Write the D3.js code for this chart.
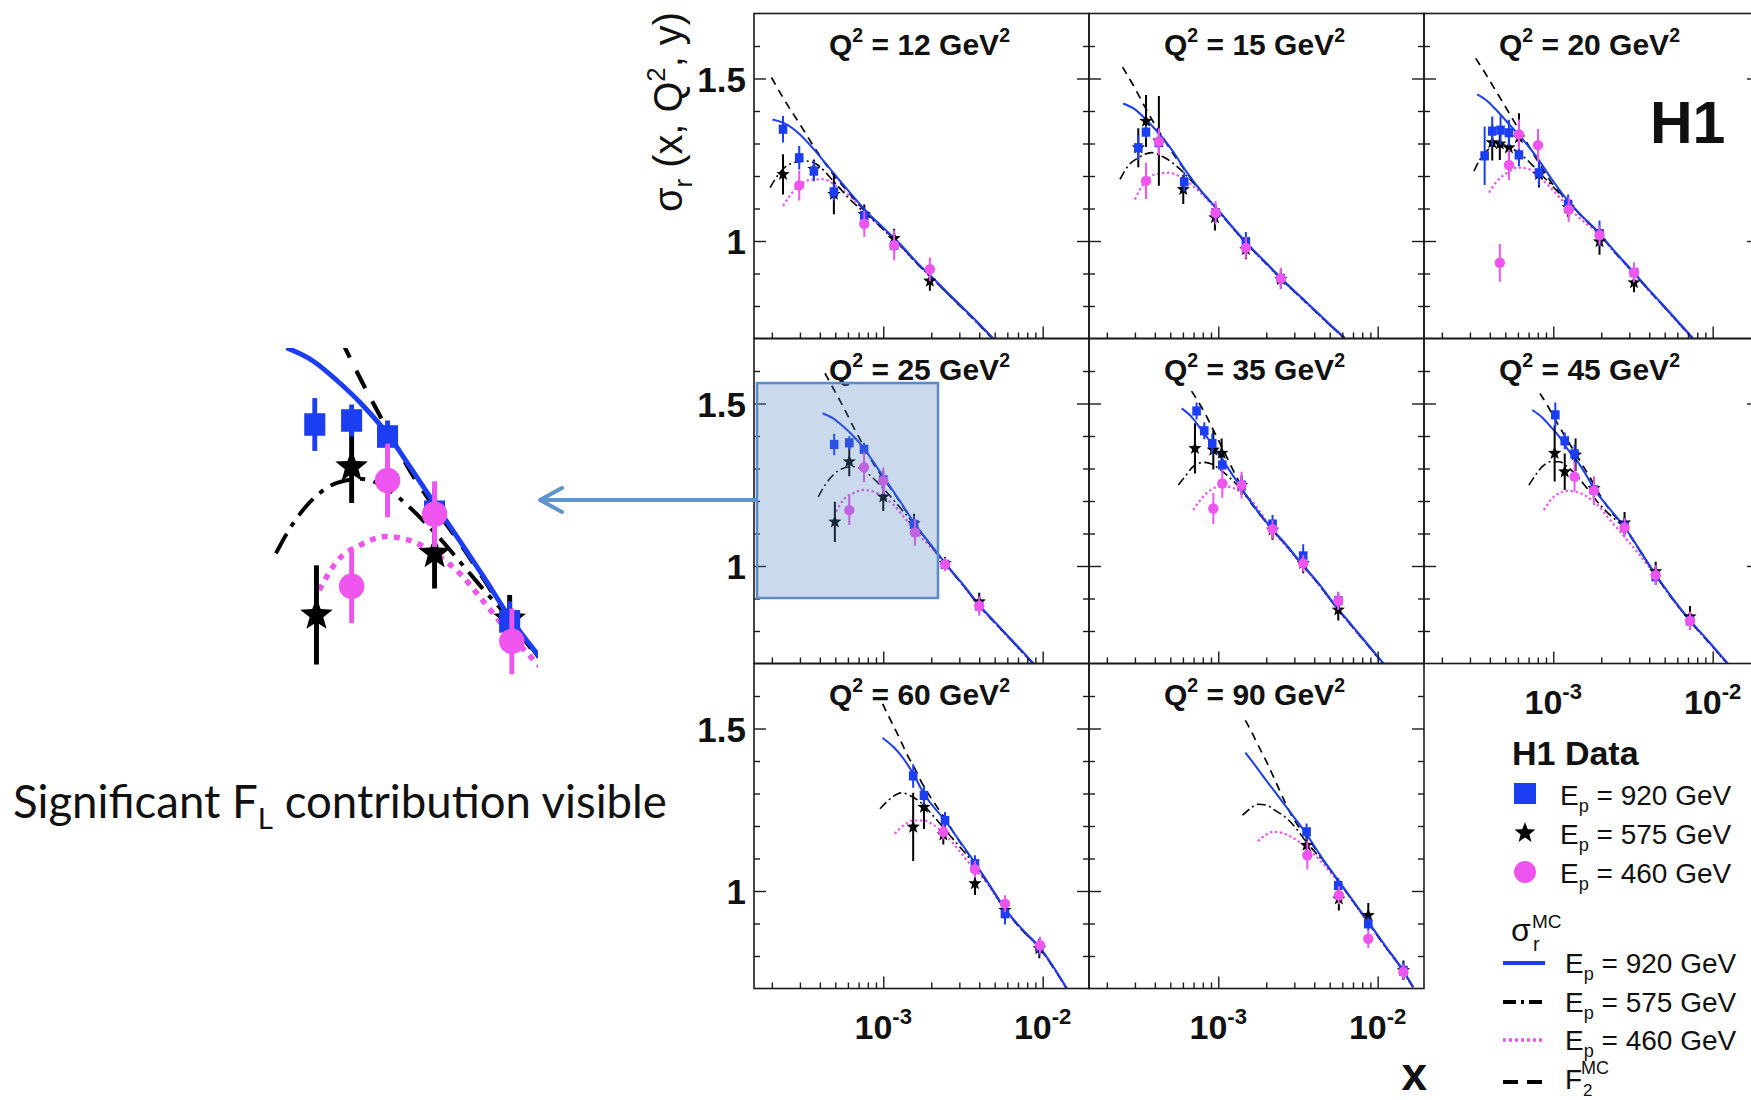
<!DOCTYPE html>
<html><head><meta charset="utf-8">
<script src="https://cdn.jsdelivr.net/npm/d3@7"></script>
<style>html,body{margin:0;padding:0;background:#fff;} svg{display:block;}</style>
</head><body>
<svg id="chart" width="1751" height="1100"></svg>
<script>
// ---------------- DATA ----------------
const q2Values = [12, 15, 20, 25, 35, 45, 60, 90];
const yMajorTicks = [1, 1.5];
const yTickLabels = ["1", "1.5"];
const xMajorTicks = [1e-3, 1e-2];
const xTickExponents = ["-3", "-2"];
const beamEnergies = ["920", "575", "460"];

// [x, sigma_r, error] per Q2 panel
const ep920Points = [
  [[2.35e-4,1.344,0.041],[2.97e-4,1.256,0.036],[3.67e-4,1.215,0.031],[4.90e-4,1.151,0.026],[7.60e-4,1.079,0.026],[1.17e-3,0.987,0.021]],
  [[3.15e-4,1.287,0.038],[3.52e-4,1.335,0.02],[4.24e-4,1.303,0.03],[6.12e-4,1.182,0.03],[9.62e-4,1.087,0.025],[1.49e-3,0.998,0.03],[2.47e-3,0.885,0.025]],
  [[3.71e-4,1.262,0.09],[4.14e-4,1.338,0.045],[4.67e-4,1.341,0.045],[5.27e-4,1.333,0.04],[6.09e-4,1.265,0.035],[8.13e-4,1.210,0.04],[1.24e-3,1.113,0.03],[1.95e-3,1.023,0.04],[3.21e-3,0.903,0.03]],
  [[4.92e-4,1.374,0.033],[6.12e-4,1.379,0.02],[7.57e-4,1.359,0.02],[1.0e-3,1.265,0.03],[1.56e-3,1.128,0.025],[2.44e-3,1.005,0.02],[4.0e-3,0.877,0.02]],
  [[7.31e-4,1.477,0.026],[8.17e-4,1.416,0.026],[9.17e-4,1.377,0.031],[1.06e-3,1.311,0.023],[1.40e-3,1.249,0.023],[2.19e-3,1.129,0.028],[3.41e-3,1.031,0.036],[5.66e-3,0.893,0.025]],
  [[1.03e-3,1.465,0.038],[1.18e-3,1.385,0.026],[1.36e-3,1.345,0.028],[1.80e-3,1.234,0.025],[2.80e-3,1.121,0.025],[4.39e-3,0.967,0.025],[7.21e-3,0.831,0.025]],
  [[1.54e-3,1.354,0.036],[1.80e-3,1.294,0.028],[2.44e-3,1.217,0.026],[3.76e-3,1.084,0.026],[5.80e-3,0.930,0.033],[9.53e-3,0.828,0.025]],
  [[3.58e-3,1.182,0.026],[5.66e-3,1.017,0.023],[8.73e-3,0.899,0.02],[1.45e-2,0.756,0.025]]
];
const ep575Points = [
  [[2.35e-4,1.205,0.062],[3.67e-4,1.221,0.03],[4.90e-4,1.144,0.062],[7.60e-4,1.082,0.03],[1.17e-3,1.008,0.03],[1.96e-3,0.877,0.03]],
  [[3.15e-4,1.287,0.06],[3.52e-4,1.369,0.08],[4.24e-4,1.308,0.138],[6.03e-4,1.159,0.045],[9.53e-4,1.072,0.04],[1.49e-3,0.974,0.03],[2.47e-3,0.882,0.03]],
  [[4.14e-4,1.303,0.055],[4.62e-4,1.299,0.05],[5.27e-4,1.287,0.04],[6.09e-4,1.318,0.075],[8.13e-4,1.205,0.04],[1.24e-3,1.103,0.03],[1.95e-3,0.998,0.04],[3.21e-3,0.872,0.03]],
  [[4.97e-4,1.136,0.062],[6.12e-4,1.321,0.045],[1.0e-3,1.213,0.044],[1.56e-3,1.131,0.03],[2.44e-3,1.008,0.02],[4.0e-3,0.890,0.028]],
  [[7.14e-4,1.362,0.077],[9.31e-4,1.357,0.06],[1.05e-3,1.347,0.045],[1.40e-3,1.249,0.03],[2.19e-3,1.111,0.03],[3.41e-3,1.008,0.03],[5.66e-3,0.865,0.033]],
  [[1.02e-3,1.347,0.087],[1.18e-3,1.290,0.056],[1.38e-3,1.342,0.05],[1.80e-3,1.239,0.033],[2.80e-3,1.133,0.033],[4.39e-3,0.983,0.03],[7.21e-3,0.844,0.033]],
  [[1.54e-3,1.197,0.105],[1.80e-3,1.258,0.067],[2.38e-3,1.173,0.03],[3.76e-3,1.023,0.035],[5.80e-3,0.941,0.03],[9.53e-3,0.823,0.03]],
  [[3.58e-3,1.141,0.035],[5.71e-3,0.976,0.036],[8.73e-3,0.925,0.038],[1.45e-2,0.756,0.03]]
];
const ep460Points = [
  [[2.97e-4,1.171,0.046],[7.60e-4,1.053,0.041],[1.17e-3,0.987,0.046],[1.96e-3,0.913,0.036]],
  [[3.52e-4,1.185,0.056],[4.24e-4,1.306,0.041],[9.62e-4,1.087,0.036],[1.49e-3,0.979,0.033],[2.47e-3,0.885,0.033]],
  [[4.62e-4,0.933,0.058],[5.27e-4,1.234,0.046],[6.09e-4,1.328,0.046],[8.02e-4,1.295,0.05],[1.25e-3,1.097,0.038],[1.95e-3,1.018,0.03],[3.21e-3,0.903,0.03]],
  [[6.12e-4,1.172,0.046],[7.57e-4,1.304,0.046],[1.0e-3,1.262,0.041],[1.58e-3,1.103,0.041],[2.44e-3,1.005,0.02],[4.0e-3,0.877,0.03]],
  [[9.31e-4,1.177,0.048],[1.06e-3,1.254,0.044],[1.40e-3,1.249,0.041],[2.19e-3,1.113,0.028],[3.41e-3,1.008,0.026],[5.66e-3,0.893,0.028]],
  [[1.36e-3,1.275,0.046],[1.80e-3,1.232,0.044],[2.80e-3,1.118,0.03],[4.39e-3,0.972,0.03],[7.21e-3,0.831,0.028]],
  [[2.38e-3,1.182,0.023],[3.76e-3,1.067,0.026],[5.80e-3,0.961,0.026],[9.62e-3,0.833,0.026]],
  [[3.62e-3,1.110,0.044],[5.71e-3,0.987,0.028],[8.73e-3,0.853,0.028],[1.45e-2,0.751,0.023]]
];

// curves [x, sigma_r]
const mc920Curves = [
  [[2.02e-4,1.374],[2.35e-4,1.364],[3.0e-4,1.328],[3.82e-4,1.272],[4.85e-4,1.210],[6.18e-4,1.149],[7.86e-4,1.090],[1.0e-3,1.041],[1.27e-3,0.992],[1.62e-3,0.935],[2.06e-3,0.885],[2.62e-3,0.834],[3.33e-3,0.784],[4.25e-3,0.732],[4.95e-3,0.698]],
  [[2.53e-4,1.423],[3.0e-4,1.405],[3.52e-4,1.374],[4.20e-4,1.333],[5.09e-4,1.282],[6.18e-4,1.220],[7.86e-4,1.152],[1.0e-3,1.095],[1.27e-3,1.035],[1.62e-3,0.978],[2.06e-3,0.926],[2.62e-3,0.874],[3.33e-3,0.826],[4.25e-3,0.777],[5.40e-3,0.729],[6.18e-3,0.703]],
  [[3.33e-4,1.451],[3.85e-4,1.431],[4.45e-4,1.400],[5.40e-4,1.354],[6.55e-4,1.308],[7.94e-4,1.256],[9.62e-4,1.195],[1.17e-3,1.138],[1.48e-3,1.082],[1.89e-3,1.031],[2.40e-3,0.971],[3.06e-3,0.914],[3.89e-3,0.856],[4.95e-3,0.800],[6.30e-3,0.743],[7.45e-3,0.703]],
  [[4.16e-4,1.470],[4.85e-4,1.454],[5.61e-4,1.429],[6.48e-4,1.400],[7.57e-4,1.362],[8.65e-4,1.321],[1.0e-3,1.275],[1.16e-3,1.229],[1.34e-3,1.183],[1.56e-3,1.133],[1.96e-3,1.070],[2.44e-3,1.010],[3.18e-3,0.942],[4.0e-3,0.880],[5.40e-3,0.811],[6.87e-3,0.756],[8.73e-3,0.701]],
  [[5.89e-4,1.485],[6.80e-4,1.459],[7.86e-4,1.418],[9.08e-4,1.377],[1.05e-3,1.331],[1.21e-3,1.285],[1.47e-3,1.224],[1.78e-3,1.167],[2.16e-3,1.116],[2.62e-3,1.070],[3.33e-3,1.008],[4.25e-3,0.947],[5.40e-3,0.880],[6.87e-3,0.818],[8.73e-3,0.757],[1.11e-2,0.695]],
  [[7.38e-4,1.480],[8.53e-4,1.457],[9.62e-4,1.429],[1.09e-3,1.398],[1.22e-3,1.362],[1.42e-3,1.321],[1.63e-3,1.275],[1.80e-3,1.238],[2.18e-3,1.185],[2.80e-3,1.120],[3.53e-3,1.045],[4.39e-3,0.974],[5.58e-3,0.902],[7.21e-3,0.833],[9.48e-3,0.767],[1.24e-2,0.701]],
  [[9.90e-4,1.471],[1.16e-3,1.443],[1.34e-3,1.407],[1.54e-3,1.361],[1.80e-3,1.299],[2.44e-3,1.217],[3.03e-3,1.152],[3.76e-3,1.087],[4.67e-3,1.017],[5.80e-3,0.946],[7.38e-3,0.884],[9.53e-3,0.828],[1.17e-2,0.766],[1.42e-2,0.700]],
  [[1.48e-3,1.426],[1.70e-3,1.387],[1.96e-3,1.346],[2.27e-3,1.305],[2.62e-3,1.264],[3.03e-3,1.223],[3.50e-3,1.182],[4.04e-3,1.135],[4.67e-3,1.089],[5.66e-3,1.033],[6.87e-3,0.976],[8.73e-3,0.905],[1.11e-2,0.833],[1.42e-2,0.761],[1.67e-2,0.705]]
];
const mc575Curves = [
  [[1.95e-4,1.164],[2.24e-4,1.210],[2.72e-4,1.241],[3.30e-4,1.246],[3.82e-4,1.236],[4.85e-4,1.185],[6.18e-4,1.128],[7.86e-4,1.082],[1.0e-3,1.036],[1.27e-3,0.989],[1.62e-3,0.932],[2.06e-3,0.882],[2.62e-3,0.831],[3.33e-3,0.781],[4.25e-3,0.729],[4.95e-3,0.695]],
  [[2.42e-4,1.190],[2.72e-4,1.231],[3.15e-4,1.256],[3.82e-4,1.272],[4.62e-4,1.256],[5.61e-4,1.226],[6.80e-4,1.185],[8.25e-4,1.140],[1.0e-3,1.093],[1.27e-3,1.033],[1.62e-3,0.976],[2.06e-3,0.924],[2.62e-3,0.872],[3.33e-3,0.824],[4.25e-3,0.775],[5.40e-3,0.727],[6.18e-3,0.701]],
  [[3.18e-4,1.215],[3.50e-4,1.254],[4.05e-4,1.287],[4.67e-4,1.297],[5.40e-4,1.287],[6.24e-4,1.267],[7.21e-4,1.239],[8.33e-4,1.207],[1.01e-3,1.164],[1.22e-3,1.123],[1.48e-3,1.080],[1.89e-3,1.029],[2.40e-3,0.969],[3.06e-3,0.912],[3.89e-3,0.854],[4.95e-3,0.798],[6.30e-3,0.741],[7.45e-3,0.701]],
  [[3.91e-4,1.213],[4.31e-4,1.249],[4.85e-4,1.280],[5.61e-4,1.301],[6.48e-4,1.306],[7.48e-4,1.295],[8.65e-4,1.270],[1.0e-3,1.239],[1.16e-3,1.203],[1.34e-3,1.167],[1.56e-3,1.131],[1.96e-3,1.067],[2.44e-3,1.007],[3.18e-3,0.940],[4.0e-3,0.878],[5.40e-3,0.809],[6.87e-3,0.754],[8.73e-3,0.699]],
  [[5.61e-4,1.249],[6.18e-4,1.275],[6.80e-4,1.301],[7.48e-4,1.316],[8.25e-4,1.319],[9.08e-4,1.314],[1.0e-3,1.301],[1.16e-3,1.275],[1.34e-3,1.244],[1.54e-3,1.208],[1.78e-3,1.165],[2.16e-3,1.114],[2.62e-3,1.068],[3.33e-3,1.006],[4.25e-3,0.945],[5.40e-3,0.878],[6.87e-3,0.816],[8.73e-3,0.755],[1.11e-2,0.693]],
  [[7.04e-4,1.249],[7.74e-4,1.280],[8.53e-4,1.306],[9.62e-4,1.321],[1.09e-3,1.321],[1.22e-3,1.306],[1.42e-3,1.275],[1.63e-3,1.239],[1.89e-3,1.198],[2.18e-3,1.165],[2.52e-3,1.138],[2.80e-3,1.118],[3.53e-3,1.043],[4.39e-3,0.972],[5.58e-3,0.900],[7.21e-3,0.831],[9.48e-3,0.765],[1.24e-2,0.699]],
  [[9.53e-4,1.253],[1.05e-3,1.274],[1.16e-3,1.292],[1.30e-3,1.302],[1.47e-3,1.294],[1.70e-3,1.274],[1.96e-3,1.243],[2.27e-3,1.207],[2.62e-3,1.171],[3.03e-3,1.135],[3.50e-3,1.099],[4.67e-3,1.014],[5.80e-3,0.944],[7.38e-3,0.882],[9.53e-3,0.826],[1.17e-2,0.764],[1.42e-2,0.698]],
  [[1.42e-3,1.233],[1.58e-3,1.253],[1.78e-3,1.267],[2.01e-3,1.264],[2.27e-3,1.248],[2.62e-3,1.228],[3.03e-3,1.197],[3.50e-3,1.156],[4.04e-3,1.120],[4.67e-3,1.087],[5.66e-3,1.031],[6.87e-3,0.974],[8.73e-3,0.903],[1.11e-2,0.831],[1.42e-2,0.759],[1.67e-2,0.703]]
];
const mc460Curves = [
  [[2.35e-4,1.108],[2.86e-4,1.164],[3.47e-4,1.188],[4.20e-4,1.190],[5.09e-4,1.169],[6.18e-4,1.138],[7.48e-4,1.097],[9.08e-4,1.056],[1.16e-3,1.005],[1.62e-3,0.933],[2.06e-3,0.883],[2.62e-3,0.832],[3.33e-3,0.782],[4.25e-3,0.730],[4.95e-3,0.696]],
  [[3.0e-4,1.128],[3.38e-4,1.174],[4.01e-4,1.205],[4.85e-4,1.210],[5.89e-4,1.195],[7.14e-4,1.164],[8.65e-4,1.125],[1.05e-3,1.080],[1.27e-3,1.032],[1.62e-3,0.975],[2.06e-3,0.923],[2.62e-3,0.871],[3.33e-3,0.823],[4.25e-3,0.774],[5.40e-3,0.726],[6.18e-3,0.700]],
  [[3.95e-4,1.149],[4.45e-4,1.185],[5.14e-4,1.210],[5.94e-4,1.226],[6.87e-4,1.223],[7.94e-4,1.203],[9.17e-4,1.174],[1.11e-3,1.131],[1.28e-3,1.097],[1.56e-3,1.059],[1.89e-3,1.027],[2.40e-3,0.968],[3.06e-3,0.911],[3.89e-3,0.853],[4.95e-3,0.797],[6.30e-3,0.740],[7.45e-3,0.700]],
  [[5.05e-4,1.167],[5.61e-4,1.203],[6.48e-4,1.224],[7.48e-4,1.234],[8.65e-4,1.229],[1.0e-3,1.213],[1.16e-3,1.188],[1.34e-3,1.152],[1.54e-3,1.116],[1.78e-3,1.082],[2.16e-3,1.039],[2.44e-3,1.006],[3.18e-3,0.939],[4.0e-3,0.877],[5.40e-3,0.808],[6.87e-3,0.753],[8.73e-3,0.698]],
  [[6.97e-4,1.172],[7.86e-4,1.208],[9.08e-4,1.236],[1.05e-3,1.246],[1.21e-3,1.242],[1.40e-3,1.226],[1.62e-3,1.201],[1.87e-3,1.160],[2.16e-3,1.112],[2.62e-3,1.066],[3.33e-3,1.005],[4.25e-3,0.944],[5.40e-3,0.877],[6.87e-3,0.815],[8.73e-3,0.754],[1.11e-2,0.692]],
  [[8.73e-4,1.172],[9.62e-4,1.203],[1.09e-3,1.224],[1.22e-3,1.231],[1.42e-3,1.227],[1.63e-3,1.213],[1.89e-3,1.188],[2.18e-3,1.152],[2.52e-3,1.116],[2.91e-3,1.080],[3.53e-3,1.030],[4.39e-3,0.970],[5.58e-3,0.899],[7.21e-3,0.830],[9.48e-3,0.764],[1.24e-2,0.698]],
  [[1.18e-3,1.176],[1.34e-3,1.202],[1.54e-3,1.217],[1.78e-3,1.217],[2.06e-3,1.204],[2.38e-3,1.179],[2.75e-3,1.146],[3.18e-3,1.108],[3.67e-3,1.071],[4.25e-3,1.038],[5.80e-3,0.943],[7.38e-3,0.881],[9.53e-3,0.825],[1.17e-2,0.763],[1.42e-2,0.697]],
  [[1.77e-3,1.153],[1.96e-3,1.171],[2.21e-3,1.182],[2.50e-3,1.179],[2.88e-3,1.166],[3.33e-3,1.146],[3.85e-3,1.120],[4.45e-3,1.089],[5.14e-3,1.053],[5.94e-3,1.017],[6.87e-3,0.973],[8.73e-3,0.902],[1.11e-2,0.830],[1.42e-2,0.758],[1.67e-2,0.702]]
];
const f2Curves = [
  [[1.99e-4,1.503],[2.35e-4,1.441],[3.0e-4,1.359],[3.82e-4,1.277],[4.85e-4,1.205],[6.18e-4,1.144],[7.86e-4,1.087],[1.0e-3,1.038],[1.27e-3,0.989],[1.62e-3,0.932],[2.06e-3,0.882],[2.62e-3,0.831],[3.33e-3,0.781],[4.25e-3,0.729],[4.95e-3,0.695]],
  [[2.51e-4,1.535],[3.0e-4,1.470],[3.47e-4,1.412],[4.01e-4,1.357],[4.62e-4,1.308],[5.61e-4,1.246],[6.80e-4,1.190],[8.25e-4,1.140],[1.0e-3,1.093],[1.27e-3,1.033],[1.62e-3,0.976],[2.06e-3,0.924],[2.62e-3,0.872],[3.33e-3,0.824],[4.25e-3,0.775],[5.40e-3,0.727],[6.18e-3,0.701]],
  [[3.26e-4,1.562],[3.67e-4,1.523],[4.24e-4,1.472],[4.90e-4,1.421],[5.66e-4,1.369],[6.55e-4,1.318],[7.57e-4,1.265],[8.73e-4,1.215],[1.01e-3,1.169],[1.17e-3,1.135],[1.48e-3,1.080],[1.89e-3,1.029],[2.40e-3,0.969],[3.06e-3,0.912],[3.89e-3,0.854],[4.95e-3,0.798],[6.30e-3,0.741],[7.45e-3,0.701]],
  [[4.31e-4,1.593],[4.85e-4,1.547],[5.61e-4,1.490],[6.48e-4,1.429],[7.48e-4,1.372],[8.65e-4,1.316],[1.0e-3,1.270],[1.16e-3,1.226],[1.34e-3,1.180],[1.56e-3,1.130],[1.96e-3,1.067],[2.44e-3,1.007],[3.18e-3,0.940],[4.0e-3,0.878],[5.40e-3,0.809],[6.87e-3,0.754],[8.73e-3,0.699]],
  [[6.80e-4,1.538],[7.48e-4,1.506],[8.25e-4,1.470],[9.08e-4,1.429],[1.0e-3,1.388],[1.10e-3,1.347],[1.21e-3,1.305],[1.34e-3,1.262],[1.47e-3,1.222],[1.78e-3,1.165],[2.16e-3,1.114],[2.62e-3,1.068],[3.33e-3,1.006],[4.25e-3,0.945],[5.40e-3,0.878],[6.87e-3,0.816],[8.73e-3,0.755],[1.11e-2,0.693]],
  [[8.25e-4,1.531],[9.17e-4,1.495],[1.01e-3,1.457],[1.14e-3,1.413],[1.28e-3,1.372],[1.48e-3,1.321],[1.71e-3,1.270],[1.98e-3,1.215],[2.18e-3,1.183],[2.80e-3,1.118],[3.53e-3,1.043],[4.39e-3,0.972],[5.58e-3,0.900],[7.21e-3,0.831],[9.48e-3,0.765],[1.24e-2,0.699]],
  [[9.90e-4,1.576],[1.10e-3,1.530],[1.24e-3,1.479],[1.40e-3,1.423],[1.58e-3,1.376],[1.78e-3,1.325],[2.06e-3,1.276],[2.44e-3,1.222],[3.03e-3,1.150],[3.76e-3,1.085],[4.67e-3,1.015],[5.80e-3,0.944],[7.38e-3,0.882],[9.53e-3,0.826],[1.17e-2,0.764],[1.42e-2,0.698]],
  [[1.48e-3,1.525],[1.62e-3,1.489],[1.78e-3,1.448],[2.01e-3,1.397],[2.27e-3,1.341],[2.56e-3,1.284],[2.88e-3,1.233],[3.26e-3,1.192],[3.67e-3,1.160],[4.67e-3,1.087],[5.66e-3,1.031],[6.87e-3,0.974],[8.73e-3,0.903],[1.11e-2,0.831],[1.42e-2,0.759],[1.67e-2,0.703]]
];

// ---------------- LAYOUT / STYLE ----------------
const W = 1751, H = 1100;
const PW = 335, PH = 325;
const colX = [754, 1089, 1424], rowY = [13.5, 338.5, 663.5];
const logMin = -3.811, decadePx = 159.4;
const xDomain = [Math.pow(10, logMin), Math.pow(10, logMin + PW / decadePx)];
const yDomain = [0.7, 1.7];
const BLUE = "#1c3ef2", MAG = "#ee55ee", BLK = "#000000", FRAME = "#1a1a1a";
const FONT = "'Liberation Sans', Arial, Helvetica, sans-serif";
const FONT2 = "Lato, 'Open Sans', sans-serif";
const zoomPanel = 3; // Q2 = 25
const insetX = [272, 538], insetY = [348, 676];
const insetXDomain = [Math.pow(10, -3.418), Math.pow(10, -2.734)];
const insetYDomain = [1.4696, 1.0597];

const svg = d3.select("#chart");
svg.append("rect").attr("width", W).attr("height", H).attr("fill", "#fff");
const defs = svg.append("defs");

function starPath(R) {
  const r = R * 0.42; let p = "";
  for (let k = 0; k < 10; k++) {
    const a = -Math.PI / 2 + k * Math.PI / 5, rr = k % 2 ? r : R;
    p += (k ? "L" : "M") + (rr * Math.cos(a)).toFixed(2) + "," + (rr * Math.sin(a)).toFixed(2);
  }
  return p + "Z";
}

// rich text with sup/sub (em relative so that font can be rescaled)
function richText(textSel, parts) {
  let prev = 0;
  parts.forEach(p => {
    const s = p.s ? 0.65 : 1;
    const o = p.s === "sup" ? -0.42 : p.s === "sub" ? 0.25 : 0;
    textSel.append("tspan").attr("font-size", s === 1 ? "1em" : "0.65em")
      .attr("dy", ((o - prev) / s).toFixed(3) + "em").text(p.t);
    prev = o;
  });
  return textSel;
}
function fitWidth(textSel, target) {
  const node = textSel.node();
  const w = node.getBBox().width;
  const fs = parseFloat(textSel.attr("font-size"));
  textSel.attr("font-size", fs * target / w);
}

function drawContent(g, xs, ys, i, k) {
  const line = d3.line().x(d => xs(d[0])).y(d => ys(d[1])).curve(d3.curveMonotoneX);
  const curves = [
    { data: mc460Curves[i], color: MAG, w: 2.2, dash: [2.4, 2.6] },
    { data: mc575Curves[i], color: BLK, w: 1.6, dash: [9, 3.5, 2, 3.5] },
    { data: f2Curves[i], color: BLK, w: 1.7, dash: [8, 6] },
    { data: mc920Curves[i], color: BLUE, w: 2, dash: null }
  ];
  curves.forEach(cv => {
    g.append("path").datum(cv.data).attr("d", line).attr("fill", "none")
      .attr("stroke", cv.color).attr("stroke-width", cv.w * k)
      .attr("stroke-dasharray", cv.dash ? cv.dash.map(v => v * k).join(" ") : null);
  });
  const series = [
    { data: ep575Points[i], color: BLK, shape: "star" },
    { data: ep920Points[i], color: BLUE, shape: "square" },
    { data: ep460Points[i], color: MAG, shape: "circle" }
  ];
  series.forEach(s => {
    const sg = g.append("g");
    sg.selectAll("line").data(s.data).join("line")
      .attr("x1", d => xs(d[0])).attr("x2", d => xs(d[0]))
      .attr("y1", d => ys(d[1] - d[2])).attr("y2", d => ys(d[1] + d[2]))
      .attr("stroke", s.color).attr("stroke-width", 2 * k);
    if (s.shape === "square") {
      sg.selectAll("rect").data(s.data).join("rect")
        .attr("x", d => xs(d[0]) - 4.3 * k).attr("y", d => ys(d[1]) - 4.6 * k)
        .attr("width", 8.6 * k).attr("height", 9.2 * k).attr("fill", s.color);
    } else if (s.shape === "circle") {
      sg.selectAll("circle").data(s.data).join("circle")
        .attr("cx", d => xs(d[0])).attr("cy", d => ys(d[1])).attr("r", 5.2 * k).attr("fill", s.color);
    } else {
      sg.selectAll("path").data(s.data).join("path")
        .attr("d", starPath(7 * k))
        .attr("transform", d => `translate(${xs(d[0])},${ys(d[1])})`).attr("fill", s.color);
    }
  });
}

const isMajorX = v => Math.abs(Math.log10(v) - Math.round(Math.log10(v))) < 1e-6;

q2Values.forEach((q2, i) => {
  const r = Math.floor(i / 3), c = i % 3;
  const x0 = colX[c], y0 = rowY[r];
  const xs = d3.scaleLog().domain(xDomain).range([x0, x0 + PW]);
  const ys = d3.scaleLinear().domain(yDomain).range([y0 + PH, y0]);
  defs.append("clipPath").attr("id", "clip" + i).append("rect")
    .attr("x", x0).attr("y", y0).attr("width", PW).attr("height", PH);
  const g = svg.append("g");
  drawContent(g.append("g").attr("clip-path", `url(#clip${i})`), xs, ys, i, 1);

  // ticks via d3 axes
  const xt = xs.ticks().filter(v => v > xDomain[0] && v < xDomain[1]);
  const xMinor = xt.filter(v => !isMajorX(v));
  const xMajor = xMajorTicks.filter(v => v > xDomain[0] && v < xDomain[1]);
  const yt = ys.ticks(10).filter(v => v > 0.75 && v < 1.65);
  const yMinor = yt.filter(v => !yMajorTicks.some(m => Math.abs(m - v) < 1e-6));
  const axG = g.append("g");
  const styleAxis = sel => { sel.select(".domain").remove(); sel.selectAll("line").attr("stroke", FRAME).attr("stroke-width", 1.4); sel.selectAll("text").remove(); };
  axG.append("g").attr("transform", `translate(0,${y0 + PH})`).call(d3.axisBottom(xs).tickValues(xMinor).tickSize(-6).tickFormat("")).call(styleAxis);
  axG.append("g").attr("transform", `translate(0,${y0 + PH})`).call(d3.axisBottom(xs).tickValues(xMajor).tickSize(-12).tickFormat("")).call(styleAxis);
  axG.append("g").attr("transform", `translate(${x0},0)`).call(d3.axisRight(ys).tickValues(yMinor).tickSize(6).tickFormat("")).call(styleAxis);
  axG.append("g").attr("transform", `translate(${x0},0)`).call(d3.axisRight(ys).tickValues(yMajorTicks).tickSize(12).tickFormat("")).call(styleAxis);
  axG.append("g").attr("transform", `translate(${x0 + PW},0)`).call(d3.axisLeft(ys).tickValues(yMinor).tickSize(6).tickFormat("")).call(styleAxis);
  axG.append("g").attr("transform", `translate(${x0 + PW},0)`).call(d3.axisLeft(ys).tickValues(yMajorTicks).tickSize(12).tickFormat("")).call(styleAxis);

  // frame
  g.append("rect").attr("x", x0).attr("y", y0).attr("width", PW).attr("height", PH)
    .attr("fill", "none").attr("stroke", FRAME).attr("stroke-width", 1.6);

  // title
  const t = g.append("text").attr("x", x0 + PW / 2 - 2).attr("y", y0 + 41).attr("text-anchor", "middle")
    .attr("font-family", FONT).attr("font-weight", "bold").attr("font-size", 30).attr("fill", "#111");
  richText(t, [{ t: "Q" }, { t: "2", s: "sup" }, { t: " = " + q2 + " GeV" }, { t: "2", s: "sup" }]);

  // y labels (first column)
  if (c === 0) {
    yMajorTicks.forEach((v, j) => {
      g.append("text").attr("x", 746).attr("y", ys(v) + 13).attr("text-anchor", "end")
        .attr("font-family", FONT).attr("font-weight", "bold").attr("font-size", 35).attr("fill", "#111")
        .text(yTickLabels[j]);
    });
  }
  // x labels: bottom row, or panel without a panel below
  const hasBelow = (i + 3) < q2Values.length;
  if (!hasBelow) {
    xMajorTicks.forEach((v, j) => {
      const lt = g.append("text").attr("x", xs(v)).attr("y", y0 + PH + 50).attr("text-anchor", "middle")
        .attr("font-family", FONT).attr("font-weight", "bold").attr("font-size", 34).attr("fill", "#111");
      richText(lt, [{ t: "10" }, { t: xTickExponents[j], s: "sup" }]);
    });
  }

  if (i === zoomPanel) {
    // highlight box drawn on top
    svg.append("rect").attr("x", 757).attr("y", 383).attr("width", 181).attr("height", 215)
      .attr("fill", "#4f81bd").attr("fill-opacity", 0.3).attr("stroke", "#5a8bc6").attr("stroke-width", 2.5);
    // magnified inset
    const xi = d3.scaleLog().domain(insetXDomain).range(insetX);
    const yi = d3.scaleLinear().domain(insetYDomain).range(insetY);
    defs.append("clipPath").attr("id", "clipInset").append("rect")
      .attr("x", insetX[0]).attr("y", insetY[0]).attr("width", insetX[1] - insetX[0]).attr("height", insetY[1] - insetY[0]);
    drawContent(svg.append("g").attr("clip-path", "url(#clipInset)"), xi, yi, i, 2.45);
  }
});

// H1 logo
svg.append("text").attr("x", 1650).attr("y", 143).attr("font-family", FONT).attr("font-weight", "bold")
  .attr("font-size", 59).attr("fill", "#111").text("H1");

// y-axis title
const yt = svg.append("text").attr("transform", "translate(682,212) rotate(-90)")
  .attr("font-family", FONT).attr("font-size", 32).attr("fill", "#111");
richText(yt, [{ t: "σ" }, { t: "r", s: "sub" }, { t: " (x, Q" }, { t: "2", s: "sup" }, { t: ", y)" }]);
fitWidth(yt, 200);

// x-axis title
svg.append("text").attr("x", 1427).attr("y", 1090).attr("text-anchor", "end").attr("font-family", FONT)
  .attr("font-weight", "bold").attr("font-size", 46).attr("fill", "#111").text("x");

// legend
const lg = svg.append("g").attr("font-family", FONT).attr("fill", "#111");
lg.append("text").attr("x", 1512).attr("y", 765).attr("font-weight", "bold").attr("font-size", 34).text("H1 Data");
const markerRowsY = [794, 833, 872];
lg.append("rect").attr("x", 1514).attr("y", markerRowsY[0] - 11).attr("width", 22).attr("height", 21).attr("fill", BLUE);
lg.append("path").attr("d", starPath(11)).attr("transform", `translate(1525,${markerRowsY[1]})`).attr("fill", BLK);
lg.append("circle").attr("cx", 1525).attr("cy", markerRowsY[2]).attr("r", 11).attr("fill", MAG);
beamEnergies.forEach((e, j) => {
  const tt = lg.append("text").attr("x", 1560).attr("y", markerRowsY[j] + 11).attr("font-size", 28);
  richText(tt, [{ t: "E" }, { t: "p", s: "sub" }, { t: " = " + e + " GeV" }]);
});
lg.append("text").attr("x", 1511).attr("y", 941).attr("font-size", 32).text("σ");
lg.append("text").attr("x", 1533).attr("y", 951).attr("font-size", 20).text("r");
lg.append("text").attr("x", 1532).attr("y", 928).attr("font-size", 19).text("MC");
const lineRowsY = [963, 1002, 1040, 1082];
const lineStyles = [
  { color: BLUE, w: 4, dash: null },
  { color: BLK, w: 4, dash: "13 5 3 5" },
  { color: MAG, w: 3.5, dash: "3 3" },
  { color: BLK, w: 4, dash: "15 9" }
];
lineStyles.forEach((s, j) => {
  lg.append("line").attr("x1", 1503).attr("x2", 1545).attr("y1", lineRowsY[j]).attr("y2", lineRowsY[j])
    .attr("stroke", s.color).attr("stroke-width", s.w).attr("stroke-dasharray", s.dash);
});
beamEnergies.forEach((e, j) => {
  const tt = lg.append("text").attr("x", 1565).attr("y", lineRowsY[j] + 10).attr("font-size", 28);
  richText(tt, [{ t: "E" }, { t: "p", s: "sub" }, { t: " = " + e + " GeV" }]);
});
lg.append("text").attr("x", 1565).attr("y", 1089).attr("font-size", 28).text("F");
lg.append("text").attr("x", 1583).attr("y", 1096).attr("font-size", 17).text("2");
lg.append("text").attr("x", 1581).attr("y", 1074).attr("font-size", 18).text("MC");

// arrow
const arrowColor = "#5f93cc";
svg.append("line").attr("x1", 756).attr("x2", 542).attr("y1", 500).attr("y2", 500)
  .attr("stroke", arrowColor).attr("stroke-width", 4);
svg.append("path").attr("d", "M562,488 L540,500 L562,512").attr("fill", "none")
  .attr("stroke", arrowColor).attr("stroke-width", 4).attr("stroke-linecap", "round").attr("stroke-linejoin", "round");

// annotation text
const an = svg.append("text").attr("x", 13).attr("y", 818).attr("font-family", FONT2)
  .attr("font-size", 46).attr("fill", "#111");
richText(an, [{ t: "Significant F" }, { t: "L", s: "sub" }, { t: " contribution visible" }]);
fitWidth(an, 654);
</script>
</body></html>
